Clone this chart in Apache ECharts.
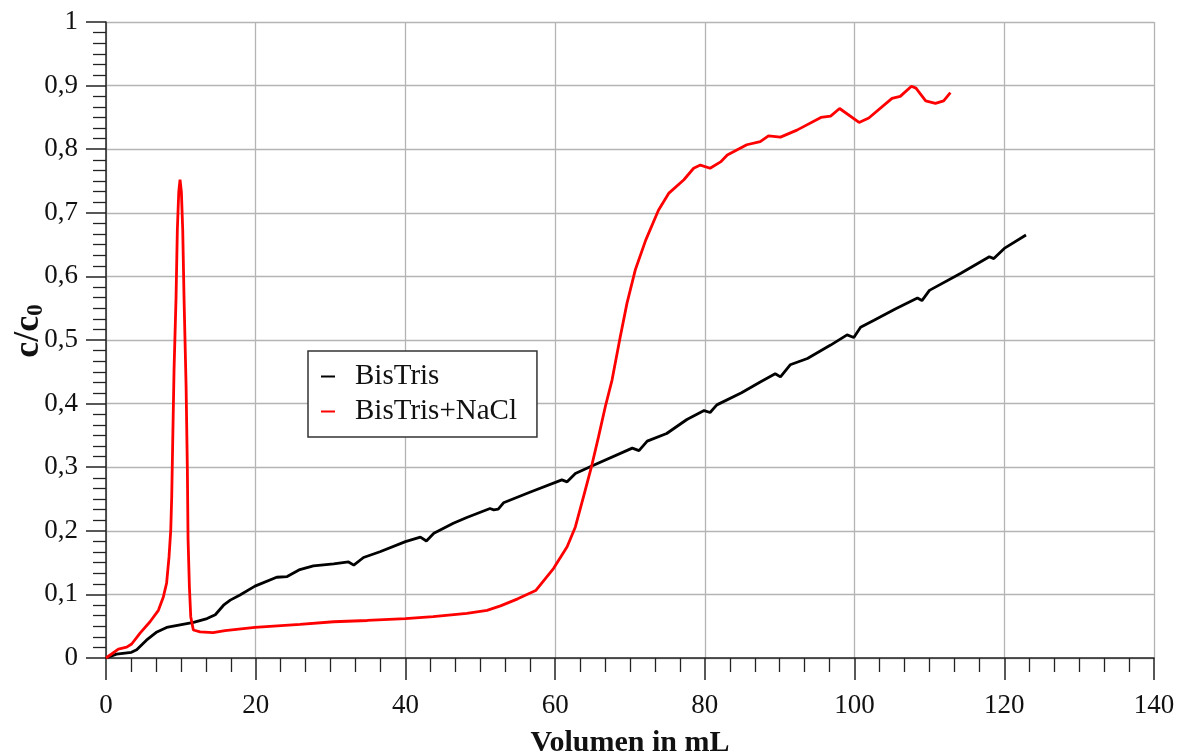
<!DOCTYPE html>
<html>
<head>
<meta charset="utf-8">
<script src="https://cdn.jsdelivr.net/npm/echarts@6/dist/echarts.min.js"></script>
<style>
  html, body { margin: 0; padding: 0; background: #fff; }
  #chart { width: 1181px; height: 754px; }
</style>
</head>
<body>
<div id="chart"></div>
<script>
// Breakthrough curves: volume (mL) vs. relative concentration c/c0
const seriesNames = ['BisTris', 'BisTris+NaCl'];

const bisTrisVolume = [0, 1.4, 3.4, 4.1, 5.4, 6.8, 8.1, 9.9, 11.7, 13.5, 14.6, 15.7, 16.6, 17.9, 19.9,
  22.8, 24.2, 25.9, 27.7, 30.4, 32.4, 33.1, 34.4, 36.6, 40.0, 42.0, 42.8, 43.8, 46.4, 48.2, 51.3,
  51.8, 52.4, 53.1, 56.7, 60.9, 61.6, 62.7, 64.9, 70.3, 71.2, 72.3, 74.9, 77.6, 79.9, 80.7, 81.6,
  84.9, 87.4, 89.4, 90.1, 91.4, 93.7, 96.8, 99.0, 99.9, 100.8, 102.6, 105.5, 108.4, 109.0, 110.0,
  114.2, 118.0, 118.6, 120.0, 122.9];
const bisTrisRatio = [0, 0.006, 0.009, 0.013, 0.028, 0.041, 0.048, 0.052, 0.056, 0.062, 0.068, 0.083,
  0.091, 0.099, 0.113, 0.127, 0.128, 0.139, 0.145, 0.148, 0.151, 0.146, 0.158, 0.167, 0.183, 0.190,
  0.184, 0.196, 0.212, 0.221, 0.235, 0.233, 0.234, 0.244, 0.261, 0.280, 0.277, 0.290, 0.302, 0.330,
  0.326, 0.341, 0.353, 0.375, 0.389, 0.386, 0.398, 0.417, 0.434, 0.447, 0.442, 0.461, 0.471, 0.492,
  0.508, 0.504, 0.520, 0.531, 0.549, 0.566, 0.562, 0.578, 0.605, 0.631, 0.628, 0.644, 0.665];

const naclVolume = [0, 1.65, 2.76, 3.43, 4.55, 5.88, 7.0, 7.66, 8.1, 8.42, 8.65, 8.78, 8.91, 9.09,
  9.36, 9.53, 9.72, 9.89, 10.07, 10.25, 10.43, 10.7, 10.87, 10.96, 11.14, 11.32, 11.67, 12.57,
  14.3, 15.9, 19.9, 25.9, 30.4, 34.9, 40.0, 43.7, 48.2, 50.9, 52.7, 55.0, 57.4, 59.8, 61.6, 62.7,
  63.8, 64.9, 65.8, 66.7, 67.6, 68.7, 69.6, 70.7, 72.1, 73.8, 75.2, 77.2, 78.5, 79.4, 80.7, 82.1,
  83.0, 85.6, 87.4, 88.5, 90.1, 92.3, 95.5, 96.8, 98.0, 100.6, 101.9, 105.0, 106.1, 107.6, 108.2,
  109.5, 110.8, 111.9, 112.8];
const naclRatio = [0, 0.014, 0.017, 0.022, 0.039, 0.057, 0.075, 0.096, 0.118, 0.159, 0.201, 0.254,
  0.338, 0.453, 0.568, 0.673, 0.733, 0.752, 0.733, 0.673, 0.563, 0.427, 0.296, 0.188, 0.112, 0.065,
  0.044, 0.041, 0.040, 0.043, 0.048, 0.053, 0.057, 0.059, 0.062, 0.065, 0.070, 0.075, 0.082, 0.093,
  0.106, 0.141, 0.175, 0.206, 0.254, 0.303, 0.348, 0.395, 0.437, 0.505, 0.558, 0.610, 0.657, 0.704,
  0.731, 0.752, 0.770, 0.775, 0.770, 0.780, 0.791, 0.807, 0.812, 0.821, 0.819, 0.830, 0.850, 0.852,
  0.864, 0.842, 0.849, 0.880, 0.883, 0.899, 0.896, 0.876, 0.872, 0.876, 0.889];

const xTicks = { min: 0, max: 140, interval: 20 };
const yTicks = { min: 0, max: 1, interval: 0.1 };

const pair = (xs, ys) => xs.map((x, i) => [x, ys[i]]);
const serif = 'Liberation Serif';
const decimalComma = v => String(+v.toFixed(1)).replace('.', ',');

const chart = echarts.init(document.getElementById('chart'), null, { renderer: 'canvas' });

const axisCommon = {
  axisLine: { show: true, onZero: false, lineStyle: { color: '#222', width: 1.5 } },
  splitLine: { show: true, lineStyle: { color: '#b4b4b4', width: 1.3 } },
  minorTick: { show: true, splitNumber: 6, lineStyle: { color: '#222', width: 1.3 } },
  axisTick: { show: true, inside: false, lineStyle: { color: '#222', width: 1.5 } },
  nameMoveOverlap: false
};

chart.setOption({
  animation: false,
  backgroundColor: '#fff',
  grid: { left: 106, right: 27, top: 22, bottom: 96, containLabel: false, outerBoundsMode: 'none' },
  legend: {
    data: seriesNames,
    orient: 'vertical',
    left: 308,
    top: 351,
    padding: [11, 20, 11, 13],
    itemGap: 6,
    itemWidth: 14,
    itemHeight: 2,
    icon: 'rect',
    backgroundColor: '#fff',
    borderColor: '#333',
    borderWidth: 1.5,
    textStyle: { fontFamily: serif, fontSize: 29, color: '#111', padding: [0, 0, 0, 15] }
  },
  xAxis: Object.assign({}, axisCommon, {
    type: 'value',
    min: xTicks.min,
    max: xTicks.max,
    interval: xTicks.interval,
    axisTick: Object.assign({}, axisCommon.axisTick, { length: 22 }),
    minorTick: Object.assign({}, axisCommon.minorTick, { length: 14 }),
    axisLabel: { margin: 34, fontFamily: serif, fontSize: 27, color: '#111' },
    name: 'Volumen in mL',
    nameLocation: 'middle',
    nameGap: 70,
    nameTextStyle: { fontFamily: serif, fontSize: 30, fontWeight: 'bold', color: '#111' }
  }),
  yAxis: Object.assign({}, axisCommon, {
    type: 'value',
    min: yTicks.min,
    max: yTicks.max,
    interval: yTicks.interval,
    axisTick: Object.assign({}, axisCommon.axisTick, { length: 20 }),
    minorTick: Object.assign({}, axisCommon.minorTick, { length: 13 }),
    axisLabel: { margin: 28, fontFamily: serif, fontSize: 27, color: '#111', formatter: decimalComma },
    name: 'c/c{sub|0}',
    nameLocation: 'middle',
    nameRotate: 90,
    nameGap: 58,
    nameTextStyle: {
      fontFamily: serif, fontSize: 36, fontWeight: 'bold', color: '#111', padding: [0, 0, 0, 18],
      rich: { sub: { fontFamily: serif, fontSize: 23, fontWeight: 'bold', color: '#111', padding: [15, 0, 0, 0] } }
    }
  }),
  series: [
    {
      name: seriesNames[0],
      type: 'line',
      data: pair(bisTrisVolume, bisTrisRatio),
      showSymbol: false,
      symbol: 'none',
      lineStyle: { color: '#000', width: 2.8 },
      itemStyle: { color: '#000' }
    },
    {
      name: seriesNames[1],
      type: 'line',
      data: pair(naclVolume, naclRatio),
      showSymbol: false,
      symbol: 'none',
      lineStyle: { color: '#ff0000', width: 2.8 },
      itemStyle: { color: '#ff0000' }
    }
  ]
});
</script>
</body>
</html>
